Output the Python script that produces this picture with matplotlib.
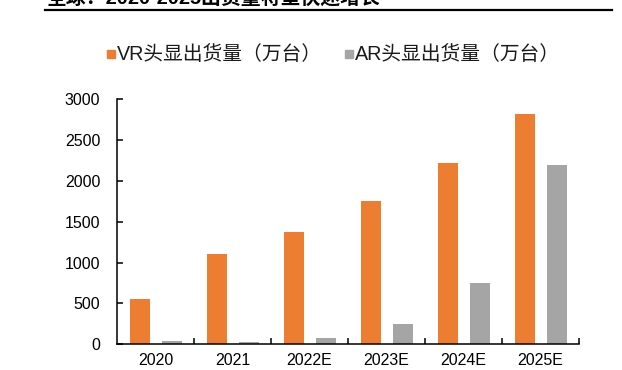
import matplotlib
matplotlib.use("Agg")
import matplotlib.pyplot as plt
from matplotlib.patches import Rectangle
from matplotlib.lines import Line2D
import numpy as np

plt.rcParams['font.family'] = ['Liberation Sans', 'Noto Sans CJK SC', 'DejaVu Sans']

categories = ["2020", "2021", "2022E", "2023E", "2024E", "2025E"]
vr_values = [550, 1100, 1380, 1750, 2220, 2820]
ar_values = [35, 30, 80, 250, 750, 2200]
series_names = ["VR头显出货量（万台）", "AR头显出货量（万台）"]
title_text = "全球：2020-2025出货量将呈快速增长"
yticks = [0, 500, 1000, 1500, 2000, 2500, 3000]

orange = "#ED7D31"
gray = "#A5A5A5"

fig = plt.figure(figsize=(6.22, 3.70), dpi=100)
ax = fig.add_axes([117/622, 1-344.3/370, (579-117)/622, (344.3-99.3)/370])

x = np.arange(len(categories))
ax.bar(x - 0.2, vr_values, width=0.27, color=orange)
ax.bar(x + 0.215, ar_values, width=0.27, color=gray)

ax.set_xlim(-0.5, len(categories) - 0.5)
ax.set_ylim(0, 3000)
ax.set_yticks(yticks)
ax.set_yticklabels([str(v) for v in yticks], fontsize=11.5)
ax.set_xticks(x)
ax.set_xticklabels(categories, fontsize=11.5)
ax.tick_params(axis='x', which='major', length=0, pad=6.5)
ax.set_xticks(np.arange(0.5, len(categories), 1.0), minor=True)
ax.tick_params(axis='x', which='minor', direction='in', length=4, width=1.1)
ax.tick_params(axis='y', direction='in', length=4, width=1.1, pad=12)
for s in ['top', 'right']:
    ax.spines[s].set_visible(False)
for s in ['left', 'bottom']:
    ax.spines[s].set_linewidth(1.1)
    ax.spines[s].set_color('black')

# legend
fig.patches.append(Rectangle((107/622, 1-58/370), 8/622, 8/370, transform=fig.transFigure,
                             color=orange, figure=fig))
fig.text(117/622, 1-54.5/370, series_names[0], fontsize=14.2, va='center', ha='left',
         color='#1a1a1a')
fig.patches.append(Rectangle((345/622, 1-58/370), 8/622, 8/370, transform=fig.transFigure,
                             color=gray, figure=fig))
fig.text(355/622, 1-54.5/370, series_names[1], fontsize=14.2, va='center', ha='left',
         color='#1a1a1a')

# cropped title and rule (the reference shows only the lower part of the title)
fig.text(47/622, 1-4/370, title_text, fontsize=14.3, fontweight='bold', va='baseline', ha='left')
fig.add_artist(Line2D([45/622, 612/622], [1-10/370, 1-10/370], transform=fig.transFigure,
                      color='black', lw=1.6))

fig.savefig("out.png", dpi=100)
